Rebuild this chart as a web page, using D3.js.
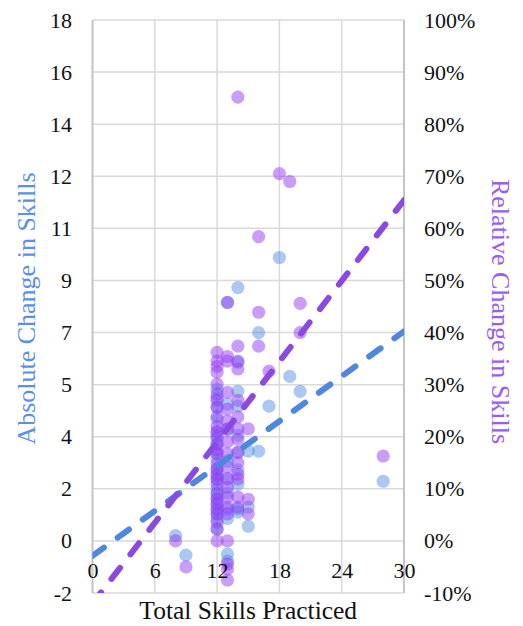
<!DOCTYPE html>
<html>
<head>
<meta charset="utf-8">
<script src="https://cdn.jsdelivr.net/npm/d3@7"></script>
<style>
  html, body { margin: 0; padding: 0; background: #fff; }
  svg { display: block; }
  text { font-family: "Liberation Serif", "Times New Roman", serif; }
</style>
</head>
<body>
<svg id="chart" width="523" height="626"></svg>
<script>
// Tick labels
const xTickLabels = [0, 6, 12, 18, 24, 30];
const leftTickLabels = ["-2", "0", "2", "4", "5", "7", "9", "11", "12", "14", "16", "18"];
const rightTickLabels = [-10, 0, 10, 20, 30, 40, 50, 60, 70, 80, 90, 100];

// Absolute change in skills vs. total skills practiced: [skills, change]
const absolutePts = [
  [8, 0], [9, -0.68],
  [12, 5.11], [12, 4.8], [12, 4.48], [12, 4.06], [12, 3.61], [12, 3.4], [12, 3.19], [12, 2.9],
  [12, 2.67], [12, 2.32], [12, 2.1], [12, 1.97], [12, 1.62], [12, 1.5], [12, 1.28], [12, 1.1],
  [12, 0.93], [12, 0.75], [12, 0.58], [12, 0.23],
  [13, 8.14], [13, 4.59], [13, 3.71], [13, 2.6], [13, 1.97], [13, 1.5], [13, 0.93], [13, 0.6],
  [13, -0.64], [13, -0.89],
  [14, 8.66], [14, 6.05], [14, 5.04], [14, 4.52], [14, 3.5], [14, 2.91], [14, 2.3], [14, 1.80],
  [14, 0.93], [14, 0.82],
  [15, 2.95], [15, 1.0], [15, 0.33],
  [16, 7.09], [16, 2.95],
  [17, 4.52], [18, 9.71], [19, 5.56], [20, 5.04], [28, 1.90]
];

// Relative change in skills (%) vs. total skills practiced: [skills, change]
const relativePts = [
  [8, 0], [9, -5.0],
  [12, 36.2], [12, 34.5], [12, 33.5], [12, 32.4], [12, 30.1], [12, 28.2], [12, 27.0], [12, 25.7],
  [12, 23.9], [12, 22.0], [12, 21.0], [12, 20.1], [12, 18.6], [12, 17.5], [12, 16.7], [12, 14.8],
  [12, 13.8], [12, 12.8], [12, 11.8], [12, 10.9], [12, 9.0], [12, 8.0], [12, 7.1], [12, 6.0],
  [12, 5.2], [12, 3.6], [12, 2.3], [12, 0],
  [13, 45.8], [13, 35.4], [13, 34.5], [13, 28.5], [13, 25.3], [13, 23.0], [13, 21.5], [13, 19.0],
  [13, 16.7], [13, 14.2], [13, 12.0], [13, 10.3], [13, 8.4], [13, 6.5], [13, 5.2], [13, 0],
  [13, -4.4], [13, -5.4], [13, -7.5],
  [14, 85.2], [14, 37.4], [14, 34.5], [14, 33.0], [14, 27.0], [14, 23.8], [14, 21.5], [14, 19.5],
  [14, 17.0], [14, 15.0], [14, 12.8], [14, 11.9], [14, 8.4], [14, 6.5],
  [15, 21.5], [15, 8.0], [15, 5.2],
  [16, 58.4], [16, 43.9], [16, 37.4],
  [17, 32.6], [18, 70.5], [19, 69.0], [20, 45.6], [20, 40.0], [28, 16.3]
];

// Linear trend fits: [slope, intercept]
const absoluteTrend = [0.261, -0.70];
const relativeTrend = [2.58, -12.0];

const svg = d3.select("#chart");
const plot = { left: 92.5, right: 404, top: 20, bottom: 593 };

const x = d3.scaleLinear().domain([0, 30]).range([plot.left, plot.right]);
const yLeft = d3.scaleLinear().domain([-2, 18]).range([plot.bottom, plot.top]);
const yRight = d3.scaleLinear().domain([-10, 100]).range([plot.bottom, plot.top]);

const leftTickValues = leftTickLabels.map((_, i) => -2 + i * 20 / (leftTickLabels.length - 1));

// Gridlines
const grid = svg.append("g");
grid.selectAll("line.h").data(leftTickValues).join("line")
  .attr("x1", plot.left).attr("x2", plot.right)
  .attr("y1", d => yLeft(d)).attr("y2", d => yLeft(d))
  .attr("stroke", "#d9d9d9").attr("stroke-width", 1.5);
grid.selectAll("line.v").data(xTickLabels).join("line")
  .attr("x1", d => x(d)).attr("x2", d => x(d))
  .attr("y1", plot.top).attr("y2", plot.bottom)
  .attr("stroke", d => (d === 0 || d === 30) ? "#c4c4c4" : "#d9d9d9")
  .attr("stroke-width", d => (d === 0 || d === 30) ? 2 : 1.5);

// Points
svg.append("g").selectAll("circle").data(absolutePts).join("circle")
  .attr("cx", d => x(d[0])).attr("cy", d => yLeft(d[1])).attr("r", 6.6)
  .attr("fill", "rgb(80,140,225)").attr("fill-opacity", 0.48);
svg.append("g").selectAll("circle").data(relativePts).join("circle")
  .attr("cx", d => x(d[0])).attr("cy", d => yRight(d[1])).attr("r", 6.6)
  .attr("fill", "rgb(150,60,245)").attr("fill-opacity", 0.5);

// Trend lines, clipped to the plot area
svg.append("clipPath").attr("id", "plotClip").append("rect")
  .attr("x", plot.left).attr("y", plot.top)
  .attr("width", plot.right - plot.left).attr("height", plot.bottom - plot.top);

const trendX = x.domain();
const trends = svg.append("g").attr("clip-path", "url(#plotClip)");
trends.append("path")
  .datum(trendX.map(t => [t, absoluteTrend[0] * t + absoluteTrend[1]]))
  .attr("d", d3.line().x(d => x(d[0])).y(d => yLeft(d[1])))
  .attr("fill", "none").attr("stroke", "#4d87e0").attr("stroke-width", 6)
  .attr("stroke-linecap", "round").attr("stroke-dasharray", "14 17");
trends.append("path")
  .datum(trendX.map(t => [t, relativeTrend[0] * t + relativeTrend[1]]))
  .attr("d", d3.line().x(d => x(d[0])).y(d => yRight(d[1])))
  .attr("fill", "none").attr("stroke", "#8a4ae2").attr("stroke-width", 6)
  .attr("stroke-linecap", "round").attr("stroke-dasharray", "14 17");

// Axes
const tickFont = g => g.selectAll("text")
  .attr("font-size", 22).attr("fill", "#111")
  .style("font-family", '"Liberation Serif", "Times New Roman", serif');

const leftAxis = svg.append("g").attr("transform", `translate(${plot.left},0)`)
  .call(d3.axisLeft(yLeft).tickValues(leftTickValues)
    .tickFormat((d, i) => leftTickLabels[i]).tickSize(0).tickPadding(20.5));
leftAxis.select(".domain").remove();
leftAxis.call(tickFont);

const rightAxis = svg.append("g").attr("transform", `translate(${plot.right},0)`)
  .call(d3.axisRight(yRight).tickValues(rightTickLabels)
    .tickFormat(d => d + "%").tickSize(0).tickPadding(20));
rightAxis.select(".domain").remove();
rightAxis.call(tickFont);

const bottomAxis = svg.append("g").attr("transform", "translate(0,562)")
  .call(d3.axisBottom(x).tickValues(xTickLabels).tickFormat(d3.format("d")).tickSize(0).tickPadding(0));
bottomAxis.select(".domain").remove();
bottomAxis.call(tickFont);

// Axis titles
svg.append("text").attr("x", (plot.left + plot.right) / 2).attr("y", 619)
  .attr("text-anchor", "middle").attr("font-size", 25.5).attr("fill", "#111")
  .text("Total Skills Practiced");
svg.append("text").attr("transform", "translate(35,308.5) rotate(-90)")
  .attr("text-anchor", "middle").attr("font-size", 26).attr("fill", "#5b8fe8")
  .text("Absolute Change in Skills");
svg.append("text").attr("transform", "translate(492,311.5) rotate(90)")
  .attr("text-anchor", "middle").attr("font-size", 26).attr("fill", "#9a5cf2")
  .text("Relative Change in Skills");
</script>
</body>
</html>
